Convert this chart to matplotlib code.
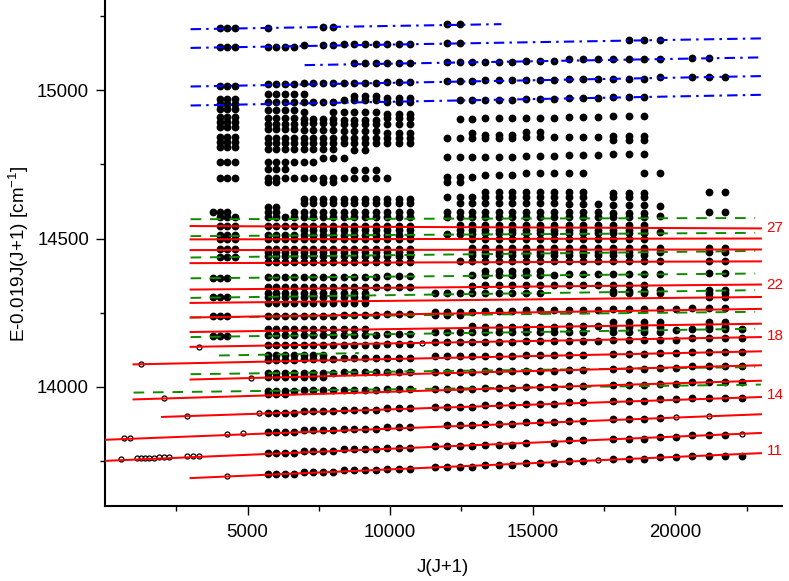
import matplotlib
matplotlib.use("Agg")
import matplotlib.pyplot as plt

plt.rcParams['font.family'] = ['Liberation Sans', 'DejaVu Sans']
plt.rcParams['mathtext.default'] = 'regular'

_ = None
S0 = [4032, 4290, 4556]
S1 = [5700, 6006, 6320, 6642]
S2 = [6972, 7310, 7656, 8010]
S3 = [8372, 8742, 9120, 9506]
S4 = [9900, 10302, 10712]
S5 = [11556, 11990, 12432, 12882]
S6 = [13340, 13806, 14280]
S7 = [14762, 15252, 15750]
S8 = [16256, 16770, 17292]
S9 = [17822, 18360, 18906]
S10 = [19460, 20022]
S11 = [20592, 21170, 21756, 22350]
SEGMENTS = [S0, S1, S2, S3, S4, S5, S6, S7, S8, S9, S10, S11]

# Each row: level per column group, then the columns of those groups with no dot
DOT_ROWS = [
    ([15208, 15209, 15213, _, _, 15221, _, _, _, _, _, _], (6006, 6320, 6642, 6972, 7310, 11556, 12882)),
    ([15145, 15146, 15151, 15154, 15155, 15157, _, _, _, 15169, 15169, _], (7310, 11556, 12882, 17822, 20022)),
    ([_, _, _, 15090, 15092, 15094, 15095, 15098, 15103, 15105, 15105, 15109], (8372, 11556, 20022, 21756, 22350)),
    ([15014, 15019, 15023, 15025, 15027, 15030, 15033, 15035, 15037, 15038, 15043, 15043], (11556, 20022, 22350)),
    ([_, 14988, 14988, 14980, 14974, _, _, _, _, _, _, _], (7310, 7656, 8010, 8372)),
    ([14953, 14961, 14961, 14966, 14961, 14966, 14966, 14971, 14973, 14976, _, _], (11556, 11990)),
    ([14969, _, _, _, _, _, _, _, _, _, _, _], ()),
    ([14935, 14932, 14925, 14925, 14921, _, _, _, _, _, _, _], (7310, 7656)),
    ([14908, 14905, 14901, 14899, 14906, 14904, 14905, 14906, 14910, 14912, _, _], (11556, 11990)),
    ([14891, 14887, 14888, 14885, 14885, _, _, _, _, _, _, _], ()),
    ([14874, 14870, 14865, 14862, 14857, _, _, _, _, _, _, _], ()),
    ([14843, 14838, 14837, 14837, 14837, 14837, 14837, 14842, 14843, 14845, _, _], (11556,)),
    ([_, _, _, _, _, 14854, 14848, 14859, _, 14831, _, _], (11556, 11990, 12432, 15750)),
    ([14826, 14821, 14822, 14822, 14822, _, _, _, _, _, _, _], ()),
    ([14809, 14803, 14801, 14798, _, _, _, _, _, _, _, _], (8372, 9506)),
    ([_, _, 14772, 14772, _, 14773, 14775, 14777, 14781, 14784, _, _], (6972, 7310, 8742, 9120, 9506, 11556)),
    ([14758, 14758, 14758, _, _, _, _, _, _, _, _, _], (7656, 8010)),
    ([_, 14733, _, 14730, _, _, _, _, _, _, _, _], (6642, 8372)),
    ([14704, 14704, 14704, 14704, 14704, 14708, 14713, 14719, 14719, 14719, 14721, _], (10302, 10712, 11556, 17292, 17822, 18360, 20022)),
    ([_, 14690, 14691, _, _, 14690, _, _, _, _, _, _], (6320, 6642, 6972, 7310, 11556, 12882)),
    ([_, _, 14632, 14632, 14632, 14640, 14656, 14656, 14656, 14653, _, 14656], (11556, 17292, 20592, 22350)),
    ([_, _, _, _, _, _, 14640, 14640, 14640, 14640, _, _], (17292,)),
    ([_, _, 14618, 14618, 14618, 14618, 14618, 14618, 14615, 14612, 14610, _], (11556, 11990, 20022)),
    ([_, 14607, _, _, _, _, _, _, _, _, _, _], (6320, 6642)),
    ([14589, 14589, 14590, 14590, 14590, 14590, 14590, 14590, 14590, 14587, _, 14590], (4556, 6320, 11556, 20592, 22350)),
    ([14572, 14572, 14572, 14572, 14572, 14572, 14572, 14572, 14572, 14572, 14575, _], (11556, 20022)),
    ([14541, 14541, 14541, 14541, 14541, 14545, 14545, 14545, 14545, 14545, _, _], (11556, 11990)),
    ([_, _, 14528, 14528, 14528, 14530, 14530, 14530, 14530, 14530, _, _], (11556, 11990)),
    ([14511, 14511, 14511, 14511, 14511, 14516, 14517, 14517, 14517, 14517, 14522, _], (11556, 20022)),
    ([14498, 14497, 14497, 14497, 14497, 14500, 14500, 14500, 14500, 14500, _, _], (11556, 11990, 12432)),
    ([14466, 14466, 14466, 14466, 14466, 14468, 14468, 14468, 14468, 14468, 14468, 14468], (11556, 11990, 12432, 20022, 20592, 22350)),
    ([_, 14453, 14453, 14453, 14453, 14455, 14455, 14455, 14455, 14455, 14455, 14455], (11556, 11990, 12432, 20022, 20592, 22350)),
    ([14437, 14440, 14440, 14440, 14440, 14444, 14444, 14444, 14444, 14444, _, _], (11556, 11990, 12432)),
    ([_, 14420, 14420, 14420, 14420, 14423, 14423, 14423, 14423, 14423, 14423, 14423], (11556, 11990, 20022, 20592, 22350)),
    ([14366, 14370, 14370, 14370, 14373, 14376, 14378, 14378, 14380, 14381, 14381, 14384], (4556, 11556, 11990, 12432, 20022, 20592, 22350)),
    ([_, _, _, _, _, _, 14390, 14390, _, _, _, _], (15750,)),
    ([_, 14335, 14335, 14335, 14336, 14339, 14342, 14342, 14343, 14343, _, _], (11556, 11990, 12432)),
    ([_, _, _, _, _, _, _, _, _, 14324, 14326, 14326], (20022, 20592, 22350)),
    ([_, 14316, 14316, 14316, _, 14315, 14316, 14316, _, 14316, 14316, 14317], (9506, 15750, 20022, 20592, 22350)),
    ([14302, 14302, 14302, 14302, _, _, _, _, _, _, _, 14303], (4556, 9506, 20592, 22350)),
    ([_, 14284, 14284, 14284, _, _, _, _, _, _, _, _], (9506,)),
    ([14238, 14238, 14240, 14241, 14246, 14253, 14255, 14258, 14258, 14262, 14263, 14265], (4556, 22350)),
    ([_, _, _, _, _, 14243, _, _, _, _, _, _], (12882,)),
    ([_, 14194, 14194, 14194, _, 14204, 14202, 14203, 14204, 14202, 14202, 14202], (9506, 11556, 11990, 12432, 20022, 20592, 22350)),
    ([_, _, _, _, _, _, _, _, _, 14219, 14219, 14219], (20022, 20592, 22350)),
    ([_, _, _, _, _, 14184, 14185, 14185, 14185, 14185, 14186, 14194], (17292, 20022)),
    ([14171, 14175, 14175, 14175, 14177, _, _, _, _, _, _, _], (4556,)),
    ([_, 14140, 14140, 14142, 14145, 14151, 14151, 14154, 14155, 14157, 14159, 14166], ()),
    ([_, 14109, 14109, _, _, _, _, _, _, _, _, _], (8010,)),
    ([_, 14092, 14093, 14096, 14098, 14103, 14105, 14107, 14108, 14112, 14113, 14117], (17292,)),
    ([_, 14047, 14047, 14049, 14051, 14050, 14053, 14054, 14056, 14059, 14063, 14069], (17292,)),
    ([_, 14033, 14034, _, _, _, _, _, _, _, _, _], (8010,)),
    ([_, 13987, 13989, 13990, 13992, 13992, 13995, 13999, 14002, 14007, 14010, 14017], (17292,)),
    ([_, 13975, _, _, _, _, _, _, _, _, _, _], (6642,)),
    ([_, 13913, 13918, 13922, 13929, 13933, 13938, 13942, 13948, 13953, 13958, 13963], (17292,)),
    ([_, 13849, 13854, 13859, 13864, 13871, 13876, 13881, 13886, 13891, 13896, _], (11556, 17292, 20022)),
    ([_, 13778, 13783, 13790, 13795, 13801, 13806, 13812, 13820, 13825, 13832, 13839], (15252, 17292, 22350)),
    ([_, 13707, 13712, 13719, 13724, 13731, 13737, 13744, 13751, 13758, 13763, 13769], (17292,)),
]
EXTRA_X = [3782, 3782, 3782, 3782, 3782, 20022]
EXTRA_Y = [14589, 14366, 14302, 14238, 14171, 14193]

OPEN_X = [552, 1122, 1260, 1406, 1560, 1722, 1892, 2070, 2256, 2862, 3080, 3306,
          650, 870, 4290, 4830, 22350, 4290, 17292, 20022, 21170, 2862, 5402,
          2070, 5112, 1260, 3306, 11130]
OPEN_Y = [13756, 13760, 13761, 13761, 13762, 13762, 13763, 13763, 13764, 13766, 13766, 13766,
          13827, 13827, 13840, 13844, 13843, 13700, 13755, 13899, 13903, 13903, 13912,
          13963, 14031, 14077, 14135, 14149]

# start x, start y, end x, end y
RED_LINES = [
    (3000, 14542, 23000, 14534), (3000, 14497, 23000, 14500), (3000, 14461, 23000, 14463),
    (3000, 14417, 23000, 14423), (3000, 14328, 23000, 14345), (3000, 14283, 23000, 14303),
    (3000, 14234, 23000, 14263), (3000, 14185, 23000, 14213), (3000, 14135, 23000, 14168),
    (1000, 14076, 23000, 14120), (3000, 14025, 23000, 14073), (1000, 13958, 23000, 14021),
    (2000, 13899, 23000, 13966), (0, 13822, 23000, 13908), (0, 13751, 23000, 13845),
    (3000, 13693, 23000, 13777),
]
GREEN_LINES = [
    (3000, 14565, 22800, 14569), (3000, 14508, 22800, 14519), (3000, 14436, 22800, 14458),
    (3000, 14366, 22800, 14382), (3000, 14300, 22800, 14326), (3000, 14234, 22800, 14253),
    (3000, 14168, 22800, 14196), (4000, 14106, 8900, 14114), (3000, 14043, 22800, 14067),
    (1000, 13981, 23000, 14008),
]
BLUE_LINES = [
    (3000, 15205, 13900, 15222), (3000, 15142, 23000, 15174), (7000, 15084, 23000, 15110),
    (3000, 15012, 23000, 15047), (3000, 14948, 23000, 14984),
]
LEVEL_LABELS = ["27", "22", "18", "14", "11"]
LEVEL_Y = [14537, 14344, 14170, 13972, 13785]

fig = plt.figure(figsize=(7.89, 5.81), dpi=100)
ax = fig.add_axes([105 / 789, 1 - 505.7 / 581, (782 - 105) / 789, (505.7 - 1) / 581])

xs, ys = list(EXTRA_X), list(EXTRA_Y)
for levels, missing in DOT_ROWS:
    for seg, level in zip(SEGMENTS, levels):
        if level is None:
            continue
        for x in seg:
            if x not in missing:
                xs.append(x)
                ys.append(level)
ax.plot(xs, ys, ls='none', marker='o', ms=5.6, mfc='black', mec='black', mew=0, zorder=2, clip_on=False)
ax.plot(OPEN_X, OPEN_Y, ls='none', marker='o', ms=3.6, mfc='none', mec='black', mew=0.9, zorder=2)

for x0, y0, x1, y1 in GREEN_LINES:
    ax.plot([x0, x1], [y0, y1], color='#108a00', lw=1.4, ls=(0, (5.5, 4.5)), zorder=3)
for x0, y0, x1, y1 in RED_LINES:
    ax.plot([x0, x1], [y0, y1], color='#ff0000', lw=1.45, zorder=4)
for x0, y0, x1, y1 in BLUE_LINES:
    ax.plot([x0, x1], [y0, y1], color='#0000ff', lw=1.5, ls=(0, (5, 2.5, 1.2, 2.5)), zorder=4)

for label, y in zip(LEVEL_LABELS, LEVEL_Y):
    ax.text(23200, y, label, color='#ff0000', fontsize=11, va='center', ha='left')

ax.set_xlim(0, 23740)
ax.set_ylim(13600, 15300)
ax.set_xticks([5000, 10000, 15000, 20000])
ax.set_xticks([2500, 7500, 12500, 17500, 22500], minor=True)
ax.set_yticks([14000, 14500, 15000])
ax.set_yticks([13750, 14250, 14750, 15250], minor=True)
ax.tick_params(axis='both', which='major', length=6.5, width=1.0, labelsize=13.4)
ax.tick_params(axis='x', which='major', pad=7)
ax.tick_params(axis='y', which='major', pad=5)
ax.tick_params(axis='both', which='minor', length=3.5, width=1.0)
for side in ('top', 'right'):
    ax.spines[side].set_visible(False)
for side in ('left', 'bottom'):
    ax.spines[side].set_linewidth(1.5)
fig.text(443 / 789, 1 - 567 / 581, "J(J+1)", fontsize=13.4, ha='center', va='center')
fig.text(19 / 789, 1 - 253.5 / 581, "E-0.019J(J+1) [cm$^{-1}$]", fontsize=13.6, rotation=90, ha='center', va='center')

fig.savefig("out.png", dpi=100)
